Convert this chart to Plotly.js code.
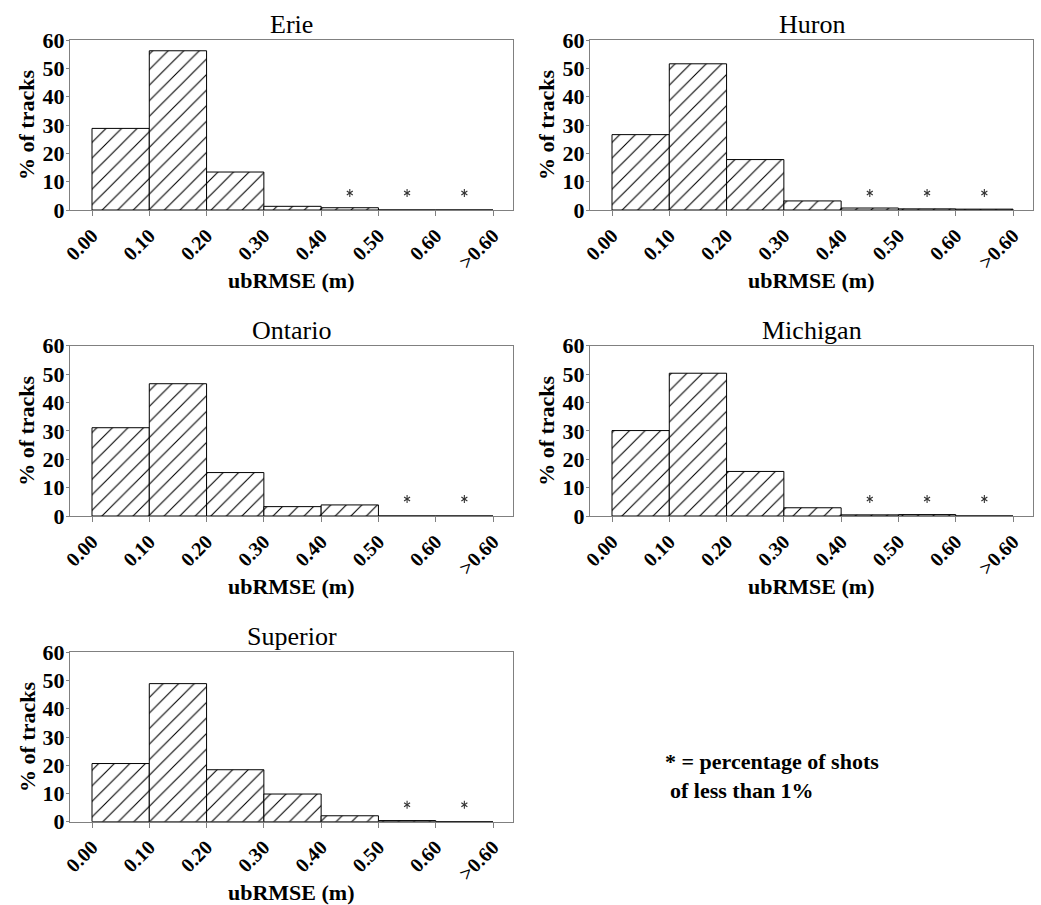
<!DOCTYPE html>
<html>
<head>
<meta charset="utf-8">
<script src="https://cdn.plot.ly/plotly-3.0.1.min.js"></script>
<style>
  html, body { margin: 0; padding: 0; background: #fff; }
  #chart { width: 1041px; height: 905px; }
</style>
</head>
<body>
<div id="chart"></div>
<script>
// Bin edges (ubRMSE, m) shown as tick labels; bars sit between consecutive edges
const edgeLabels = ['0.00', '0.10', '0.20', '0.30', '0.40', '0.50', '0.60', '&gt;0.60'];
const binCenters = [0.5, 1.5, 2.5, 3.5, 4.5, 5.5, 6.5];

// Percentage of tracks per ubRMSE bin
const erie     = [28.8, 56.2, 13.4, 1.3, 0.8, 0.0, 0.0];
const huron    = [26.6, 51.6, 17.8, 3.2, 0.7, 0.4, 0.3];
const ontario  = [31.1, 46.6, 15.3, 3.3, 3.9, 0.0, 0.0];
const michigan = [30.1, 50.3, 15.7, 2.9, 0.4, 0.5, 0.0];
const superior = [20.6, 48.9, 18.4, 9.8, 2.1, 0.4, 0.0];

// Bins holding less than 1% of shots (flagged with an asterisk)
const erieFlags     = [4, 5, 6];
const huronFlags    = [4, 5, 6];
const ontarioFlags  = [5, 6];
const michiganFlags = [4, 5, 6];
const superiorFlags = [5, 6];

const lakeNames = ['Erie', 'Huron', 'Ontario', 'Michigan', 'Superior'];
const lakeValues = [erie, huron, ontario, michigan, superior];
const lakeFlags = [erieFlags, huronFlags, ontarioFlags, michiganFlags, superiorFlags];

const W = 1041, H = 905;
const SERIF = 'Liberation Serif, Times New Roman, serif';
const FRAME = '#808080';
const FLAG_LEVEL = 6.0;

// Plot boxes in pixels
const boxes = [
  { x0: 70,  x1: 513,  y0: 40,    y1: 210 },
  { x0: 590, x1: 1033, y0: 40,    y1: 210 },
  { x0: 70,  x1: 513,  y0: 345.7, y1: 516 },
  { x0: 590, x1: 1033, y0: 345.7, y1: 516 },
  { x0: 70,  x1: 513,  y0: 652.3, y1: 821.7 }
];
const px = x => x / W;
const py = y => 1 - y / H;

const traces = [];
const layout = {
  width: W, height: H,
  margin: { l: 0, r: 0, t: 0, b: 0 },
  paper_bgcolor: '#fff',
  plot_bgcolor: '#fff',
  showlegend: false,
  bargap: 0,
  font: { family: SERIF, color: '#000' },
  annotations: []
};

lakeNames.forEach((name, i) => {
  const b = boxes[i];
  const k = i === 0 ? '' : String(i + 1);
  const xa = 'x' + k, ya = 'y' + k;

  traces.push({
    type: 'bar',
    x: binCenters,
    y: lakeValues[i],
    xaxis: xa, yaxis: ya,
    marker: {
      color: '#fff',
      line: { color: '#000', width: 1 },
      pattern: { shape: '/', fgcolor: '#000', bgcolor: '#fff', size: 11, solidity: 0.1, fillmode: 'replace' }
    },
    hoverinfo: 'skip'
  });

  // Six-point asterisks above the sparse bins: an upward and a downward "Y" drawn on the same spot
  const fx = [], fy = [], fs = [];
  lakeFlags[i].forEach(j => {
    fx.push(binCenters[j], binCenters[j]);
    fy.push(FLAG_LEVEL, FLAG_LEVEL);
    fs.push('y-up-open', 'y-down-open');
  });
  traces.push({
    type: 'scatter',
    mode: 'markers',
    x: fx, y: fy,
    xaxis: xa, yaxis: ya,
    marker: { symbol: fs, size: 5, color: '#333', line: { color: '#333', width: 1.1 } },
    hoverinfo: 'skip'
  });

  layout['xaxis' + k] = {
    domain: [px(b.x0), px(b.x1)],
    anchor: ya,
    range: [-0.384, 7.349],
    tickmode: 'array',
    tickvals: [0, 1, 2, 3, 4, 5, 6, 7],
    ticktext: edgeLabels,
    tickangle: -45,
    ticks: 'outside', ticklen: 5, tickcolor: FRAME, tickwidth: 1,
    tickfont: { family: SERIF, size: 20, color: '#000', weight: 'bold' },
    showline: true, linecolor: FRAME, linewidth: 1, mirror: true,
    showgrid: false, zeroline: false, fixedrange: true
  };
  layout['yaxis' + k] = {
    domain: [py(b.y1), py(b.y0)],
    anchor: xa,
    range: [0, 60],
    dtick: 10, tick0: 0,
    ticks: 'outside', ticklen: 3, tickcolor: FRAME, tickwidth: 1,
    ticklabelstandoff: -3,
    tickfont: { family: SERIF, size: 22, color: '#000', weight: 'bold' },
    showline: true, linecolor: FRAME, linewidth: 1, mirror: true,
    showgrid: false, zeroline: false, fixedrange: true
  };

  const cx = (b.x0 + b.x1) / 2;
  layout.annotations.push(
    { text: name, xref: 'paper', yref: 'paper', x: px(cx), y: py(b.y0),
      xanchor: 'center', yanchor: 'bottom', yshift: -1, showarrow: false,
      font: { family: SERIF, size: 26, color: '#000' } },
    { text: 'ubRMSE (m)', xref: 'paper', yref: 'paper', x: px(cx), y: py(b.y1),
      xanchor: 'center', yanchor: 'top', yshift: -56, showarrow: false,
      font: { family: SERIF, size: 22, color: '#000', weight: 'bold' } },
    { text: '% of tracks', xref: 'paper', yref: 'paper', x: px(b.x0 - 43), y: py((b.y0 + b.y1) / 2),
      xanchor: 'center', yanchor: 'middle', textangle: -90, showarrow: false,
      font: { family: SERIF, size: 22, color: '#000', weight: 'bold' } }
  );
});

// Footnote explaining the asterisks
layout.annotations.push(
  { text: '* = percentage of shots', xref: 'paper', yref: 'paper', x: px(663), y: py(761),
    xanchor: 'left', yanchor: 'middle', showarrow: false,
    font: { family: SERIF, size: 22, color: '#000', weight: 'bold' } },
  { text: 'of less than 1%', xref: 'paper', yref: 'paper', x: px(668), y: py(790),
    xanchor: 'left', yanchor: 'middle', showarrow: false,
    font: { family: SERIF, size: 22, color: '#000', weight: 'bold' } }
);

Plotly.newPlot('chart', traces, layout, { staticPlot: true, displayModeBar: false });
</script>
</body>
</html>
